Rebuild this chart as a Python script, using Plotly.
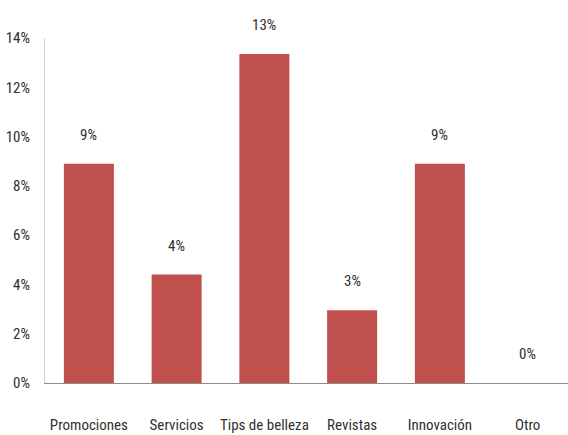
import plotly.graph_objects as go

categorias = ["Promociones", "Servicios", "Tips de belleza", "Revistas", "Innovación", "Otro"]
porcentajes = [8.9, 4.4, 13.35, 2.95, 8.9, 0.0]
ticks_y = [0, 2, 4, 6, 8, 10, 12, 14]
etiquetas_y = [f"{v}%" for v in ticks_y]

FUENTE = "Roboto Condensed, DejaVu Sans Condensed, sans-serif"
COLOR_TEXTO = "#303030"
TAM = 15

def fuente():
    return dict(family=FUENTE, size=TAM, color=COLOR_TEXTO)

fig = go.Figure(
    go.Bar(
        x=categorias,
        y=porcentajes,
        marker=dict(color="#C0504D", line=dict(width=0)),
        hoverinfo="skip",
    )
)

# etiquetas de valor sobre cada barra
for cat, val in zip(categorias, porcentajes):
    fig.add_annotation(
        x=cat, y=val, text=f"{val:.0f}%", showarrow=False,
        yshift=29, font=fuente(),
    )

fig.update_layout(
    width=568, height=435,
    margin=dict(l=45, r=0, t=38, b=52),
    paper_bgcolor="white", plot_bgcolor="white",
    bargap=0.43,
    showlegend=False,
    font=fuente(),
)
fig.update_xaxes(
    range=[-0.5, 5.46],
    showline=True, linecolor="#8c8c8c", linewidth=1,
    showgrid=False, ticks="", ticklabelstandoff=28,
    tickfont=fuente(),
)
fig.update_yaxes(
    range=[0, 14], tickvals=ticks_y, ticktext=etiquetas_y,
    showline=True, linecolor="#d0d0d0", linewidth=1,
    showgrid=False, zeroline=False, ticks="", ticklabelstandoff=11,
    tickfont=fuente(),
)

fig.write_html("out.html")
